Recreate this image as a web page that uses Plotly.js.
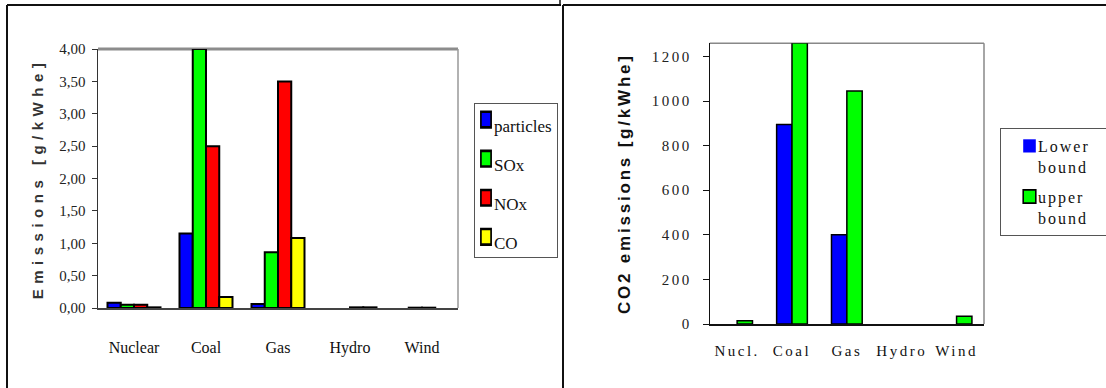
<!DOCTYPE html>
<html>
<head>
<meta charset="utf-8">
<script src="https://cdn.plot.ly/plotly-3.0.1.min.js"></script>
<style>
  html, body { margin: 0; padding: 0; background: #fff; }
  #chart { width: 1106px; height: 388px; }
  .ytitle { letter-spacing: 5.5px; }
  .y2title { letter-spacing: 2.8px; }
  .y2tick text, .x2tick text { letter-spacing: 2.5px; }
  /* compact legend boxes */
  g.legend text.legendtext { transform: translate(-21px, 4px); }
  g.legend g.legendpoints path { transform: translate(11px, -2px) scale(0.85, 1.3); }
  g.legend > rect.bg { width: 83px; }
  g.legend2 g.legendpoints path { transform: translate(31.5px, 0) scale(1.05, 1.1); }
  g.legend2 > rect.bg { x: 3.5px; width: 130px; }
  g.legend2 g.scrollbox { clip-path: none; }
  g.legend2 text { letter-spacing: 2px; }
</style>
</head>
<body>
<div id="chart"></div>
<script>
// Pollutant emissions per source [g/kWhe]
const sources   = ['Nuclear', 'Coal', 'Gas', 'Hydro', 'Wind'];
const particles = [0.08, 1.15, 0.06, 0, 0];
const sox       = [0.05, 4.00, 0.86, 0, 0.005];
const nox       = [0.05, 2.50, 3.50, 0.01, 0.005];
const co        = [0.01, 0.17, 1.08, 0.01, 0];

// CO2 emissions per source [g/kWhe], lower and upper bound
const co2Sources = ['Nucl.', 'Coal', 'Gas', 'Hydro', 'Wind'];
const co2Lower   = [0, 895, 400, 0, 0];
const co2Upper   = [15, 1260, 1045, 0, 35];

const W = 1106, H = 388;
const px = x => x / W;
const py = y => 1 - y / H;

const serif = 'Liberation Serif';
const sans = 'Liberation Sans';

// no outline on empty bars
const outlineFor = (values, width) => ({
  color: '#000',
  width: values.map(v => (v > 0 ? width : 0))
});

const pollutantBar = (name, values, color, group) => ({
  type: 'bar', name: name, x: sources, y: values,
  xaxis: 'x', yaxis: 'y', legend: 'legend', legendgroup: group,
  marker: { color: color, line: outlineFor(values, 2) }
});

const co2Bar = (name, values, color, offset) => ({
  type: 'bar', name: name, x: co2Sources, y: values,
  xaxis: 'x2', yaxis: 'y2', legend: 'legend2', legendgroup: name,
  width: 0.28, offset: offset,
  marker: { color: color, line: outlineFor(values, 1.5) }
});

const data = [
  pollutantBar('particles', particles, '#0000ff', 'p'),
  pollutantBar('SOx', sox, '#00ff00', 's'),
  pollutantBar('NOx', nox, '#ff0000', 'n'),
  pollutantBar('CO', co, '#ffff00', 'c'),
  co2Bar('Lower<br>bound', co2Lower, '#0000ff', -0.28),
  co2Bar('upper<br>bound', co2Upper, '#00ff00', 0)
];

const line = (x0, y0, x1, y1, color, width) => ({
  type: 'line', xref: 'paper', yref: 'paper',
  x0: px(x0), y0: py(y0), x1: px(x1), y1: py(y1),
  line: { color: color, width: width }, layer: 'below'
});

const layout = {
  width: W, height: H,
  margin: { l: 0, r: 0, t: 0, b: 0 },
  paper_bgcolor: '#fff', plot_bgcolor: '#fff',
  separators: ', ',
  barmode: 'group', bargap: 0.264, bargroupgap: 0,
  hovermode: false,
  xaxis: {
    domain: [px(98), px(458)], anchor: 'y', type: 'category',
    showline: true, linecolor: '#444', linewidth: 2,
    ticks: '', showgrid: false, zeroline: false,
    tickfont: { family: serif, size: 16, color: '#111' },
    ticklabelstandoff: 24
  },
  yaxis: {
    domain: [py(308), py(49)], anchor: 'x', range: [0, 4],
    tickvals: [0, 0.5, 1, 1.5, 2, 2.5, 3, 3.5, 4], tickformat: '.2f',
    ticks: 'outside', ticklen: 5, tickcolor: '#333', tickwidth: 1,
    showline: true, linecolor: '#333', linewidth: 1.5,
    showgrid: false, zeroline: false,
    tickfont: { family: serif, size: 15, color: '#222' },
    ticklabelstandoff: 3,
    title: { text: 'Emissions [g/kWhe]', standoff: 12,
             font: { family: sans, size: 15, color: '#333', weight: 'bold' } }
  },
  xaxis2: {
    domain: [px(709.7), px(984)], anchor: 'y2', type: 'category',
    showline: true, linecolor: '#111', linewidth: 1.5,
    ticks: '', showgrid: false, zeroline: false,
    tickfont: { family: serif, size: 15, color: '#111' },
    ticklabelstandoff: 12
  },
  yaxis2: {
    domain: [py(324), py(43.3)], anchor: 'x2', range: [0, 1259],
    tickvals: [0, 200, 400, 600, 800, 1000, 1200], tickformat: 'd',
    ticks: 'outside', ticklen: 6, tickcolor: '#111', tickwidth: 1,
    showline: true, linecolor: '#111', linewidth: 1,
    showgrid: false, zeroline: false,
    tickfont: { family: serif, size: 15, color: '#222' },
    ticklabelstandoff: 8,
    title: { text: 'CO2 emissions [g/kWhe]', standoff: 16,
             font: { family: sans, size: 17, color: '#111', weight: 'bold' } }
  },
  legend: {
    x: px(474), y: py(103), xanchor: 'left', yanchor: 'top',
    bgcolor: '#fff', bordercolor: '#555', borderwidth: 1,
    font: { family: serif, size: 17, color: '#111' },
    traceorder: 'grouped', tracegroupgap: 14
  },
  legend2: {
    x: px(997), y: py(128), xanchor: 'left', yanchor: 'top',
    bgcolor: '#fff', bordercolor: '#555', borderwidth: 1,
    font: { family: serif, size: 16, color: '#111' },
    traceorder: 'grouped', tracegroupgap: 6, valign: 'top'
  },
  shapes: [
    // panel frames
    line(7, 5, 7, 400, '#111', 2),
    line(7, 5, 561, 5, '#111', 2),
    line(560, 0, 560, 5, '#111', 1.5),
    line(563, 5, 563, 400, '#111', 2),
    line(563, 5, 1106, 5, '#111', 2),
    // plot area borders
    line(98, 49, 458, 49, '#8c8c8c', 3),
    line(458, 49, 458, 308, '#999', 1.5),
    line(709.7, 43.3, 984, 43.3, '#888', 1.5),
    line(984, 43.3, 984, 324, '#888', 1.5)
  ]
};

Plotly.newPlot('chart', data, layout, { staticPlot: true, displayModeBar: false });
</script>
</body>
</html>
